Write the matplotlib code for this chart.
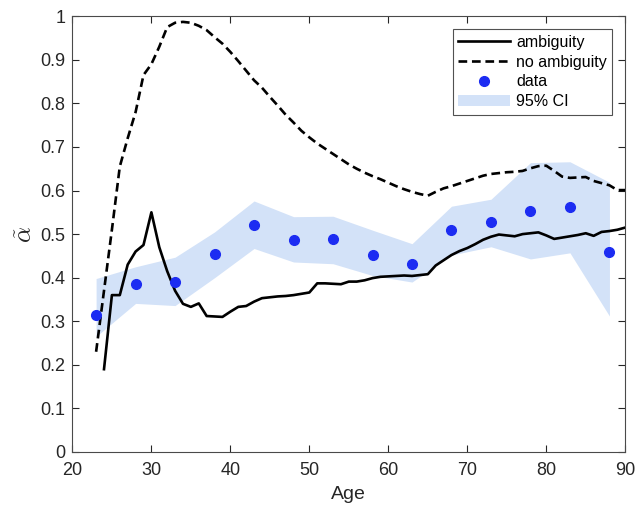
import numpy as np
import matplotlib.pyplot as plt
from matplotlib.patches import Patch

plt.rcParams['font.family'] = ['Liberation Sans', 'DejaVu Sans']
plt.rcParams['mathtext.fontset'] = 'cm'

# simulated share, with ambiguity (ages 24-90)
age_amb = np.arange(24, 91)
alpha_amb = [0.19, 0.36, 0.36, 0.43, 0.46, 0.475, 0.55, 0.47, 0.415, 0.37,
             0.34, 0.333, 0.341, 0.312, 0.311, 0.31, 0.322, 0.333, 0.335, 0.345,
             0.353, 0.355, 0.357, 0.358, 0.36, 0.363, 0.366, 0.387, 0.387, 0.386,
             0.385, 0.391, 0.391, 0.394, 0.399, 0.402, 0.403, 0.404, 0.405, 0.404,
             0.406, 0.408, 0.428, 0.44, 0.452, 0.461, 0.468, 0.477, 0.487, 0.494,
             0.499, 0.497, 0.495, 0.5, 0.502, 0.504, 0.497, 0.489, 0.492, 0.495,
             0.498, 0.502, 0.496, 0.505, 0.507, 0.51, 0.515]

# simulated share, no ambiguity (ages 23-90)
age_noamb = np.arange(23, 91)
alpha_noamb = [0.23, 0.37, 0.51, 0.655, 0.72, 0.78, 0.865, 0.89, 0.93, 0.975,
               0.985, 0.987, 0.985, 0.978, 0.968, 0.952, 0.937, 0.918, 0.897, 0.875,
               0.853, 0.836, 0.815, 0.795, 0.774, 0.756, 0.737, 0.722, 0.708, 0.696,
               0.684, 0.672, 0.66, 0.65, 0.641, 0.633, 0.626, 0.618, 0.61, 0.603,
               0.597, 0.592, 0.588, 0.597, 0.605, 0.61, 0.616, 0.622, 0.628, 0.634,
               0.638, 0.64, 0.642, 0.643, 0.645, 0.651, 0.656, 0.657, 0.645, 0.632,
               0.629, 0.63, 0.631, 0.622, 0.617, 0.612, 0.601, 0.601]

# empirical share by 5-year age group, with 95% CI
age_data = [23, 28, 33, 38, 43, 48, 53, 58, 63, 68, 73, 78, 83, 88]
alpha_data = [0.315, 0.385, 0.389, 0.454, 0.522, 0.486, 0.488, 0.452, 0.432,
              0.51, 0.527, 0.553, 0.563, 0.459]
ci_low = [0.265, 0.341, 0.336, 0.40, 0.467, 0.436, 0.432, 0.405, 0.39,
          0.452, 0.471, 0.443, 0.457, 0.312]
ci_high = [0.398, 0.425, 0.447, 0.505, 0.576, 0.54, 0.541, 0.509, 0.478,
           0.564, 0.58, 0.664, 0.666, 0.619]

fig = plt.figure(figsize=(6.38, 5.07), dpi=100)
ax = fig.add_axes([0.1135, 0.1085, 0.8665, 0.8595])

band_col = '#d3e2f8'
dot_col = '#1c2cf2'
dash = (0, (3.3, 1.8))

ax.fill_between(age_data, ci_low, ci_high, color=band_col, lw=0, zorder=1)
ax.plot(age_amb, alpha_amb, color='k', lw=1.9, zorder=3)
ax.plot(age_noamb, alpha_noamb, color='k', lw=1.9, ls=dash, zorder=3)
ax.plot(age_data, alpha_data, 'o', color=dot_col, ms=7, mec=dot_col, zorder=4)

ax.set_xlim(20, 90)
ax.set_ylim(0, 1)
ax.set_xticks(np.arange(20, 91, 10))
ax.set_yticks(np.arange(0, 1.01, 0.1))
ax.set_yticklabels(['0', '0.1', '0.2', '0.3', '0.4', '0.5', '0.6', '0.7', '0.8', '0.9', '1'])
ax.tick_params(direction='in', top=True, right=True, labelsize=13, colors='#262626',
               length=5, width=0.8)
ax.tick_params(axis='x', pad=7)
ax.tick_params(axis='y', pad=5)
for s in ax.spines.values():
    s.set_color('#4a4a4a')
    s.set_linewidth(0.8)

ax.set_xlabel('Age', fontsize=14, color='#262626', labelpad=5)
ax.set_ylabel(r'$\tilde{\alpha}$', fontsize=18, color='#262626', labelpad=2)

handles = [
    plt.Line2D([], [], color='k', lw=1.9),
    plt.Line2D([], [], color='k', lw=1.9, ls=dash),
    plt.Line2D([], [], marker='o', ls='none', color=dot_col, ms=7),
    Patch(facecolor=band_col, edgecolor='none'),
]
labels = ['ambiguity', 'no ambiguity', 'data', '95% CI']
leg = ax.legend(handles, labels, loc='upper right', bbox_to_anchor=(0.9765, 0.97),
                borderaxespad=0, fontsize=11.5, frameon=True, fancybox=False,
                handlelength=3.2, handletextpad=0.4, labelspacing=0.3,
                borderpad=0.35)
leg.get_frame().set_edgecolor('#262626')
leg.get_frame().set_linewidth(0.8)

fig.savefig('out.png', dpi=100)
